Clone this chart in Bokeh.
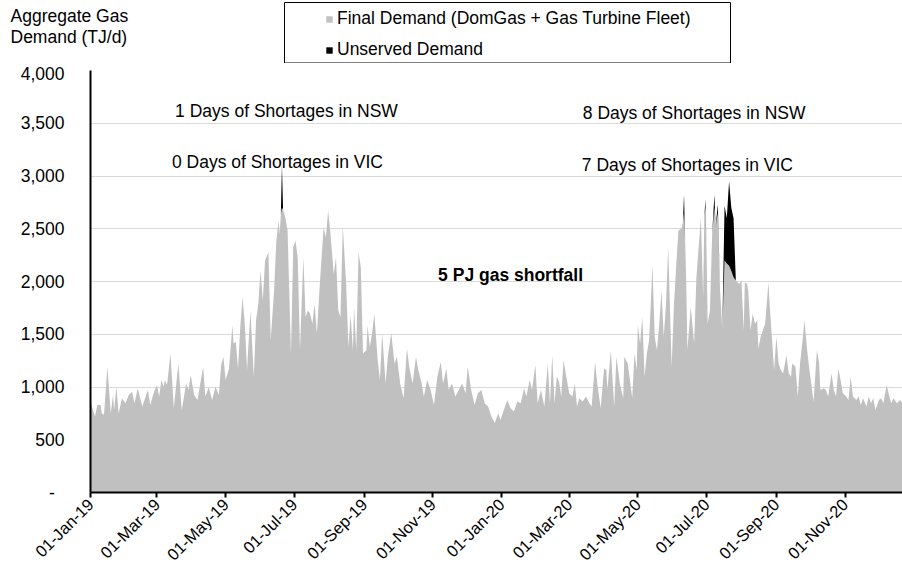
import pandas as pd
from math import pi
from bokeh.plotting import figure
from bokeh.layouts import column
from bokeh.models import (ColumnDataSource, FixedTicker, Legend, LegendItem, Label,
                          DatetimeTickFormatter, NumeralTickFormatter, Range1d)
from bokeh.embed import file_html
from bokeh.resources import INLINE

# ---------------- data ----------------
start_date = "2019-01-01"
# day offsets from 01-Jan-19 and final demand (TJ/d)
day = [0, 4, 6, 9, 10, 12, 15, 18, 20, 21, 23, 25, 28, 31, 34, 37, 39, 42, 46, 49, 51, 53, 56, 59, 61, 63, 65, 66, 68, 71,
       74, 78, 81, 85, 87, 89, 92, 95, 100, 102, 105, 108, 111, 114, 116, 118, 120, 123, 126, 127, 129, 131, 133, 135, 137,
       139, 142, 145, 147, 149, 151, 153, 155, 158, 160, 163, 165, 167, 168, 169, 170, 171, 173, 175, 178, 180, 182, 184,
       186, 189, 191, 193, 195, 197, 199, 201, 204, 207, 209, 211, 213, 216, 218, 220, 222, 224, 227, 229, 231, 233, 234,
       236, 238, 240, 242, 245, 246, 248, 250, 252, 255, 257, 259, 262, 264, 267, 270, 272, 275, 278, 281, 283, 286, 289,
       291, 294, 296, 299, 302, 305, 308, 311, 313, 316, 318, 321, 324, 327, 330, 333, 335, 338, 341, 344, 347, 350, 353,
       356, 359, 362, 364, 367, 370, 373, 376, 379, 382, 385, 387, 390, 392, 395, 397, 400, 403, 406, 408, 410, 412, 414,
       416, 418, 420, 422, 425, 428, 430, 432, 434, 437, 440, 443, 445, 448, 450, 453, 456, 458, 459, 462, 465, 467, 470,
       473, 474, 477, 479, 481, 483, 485, 486, 488, 490, 492, 494, 496, 499, 501, 503, 505, 507, 509, 511, 513, 516, 518,
       520, 522, 524, 525, 526, 527, 528, 529, 530, 533, 536, 538, 540, 542, 544, 545, 546, 547, 548, 550, 552, 554, 555,
       557, 559, 561, 563, 565, 567, 569, 571, 573, 576, 578, 580, 581, 583, 584, 586, 588, 590, 592, 593, 595, 597, 599,
       602, 603, 605, 607, 609, 611, 613, 615, 618, 620, 622, 623, 626, 628, 630, 632, 634, 636, 638, 640, 642, 645, 647,
       648, 651, 653, 655, 658, 660, 662, 664, 666, 668, 671, 673, 675, 677, 680, 682, 684, 686, 689, 691, 693, 695, 697,
       700, 702, 704, 707, 709, 711, 713, 716, 719, 721, 730]
final_demand = [860, 720, 830, 830, 750, 736, 1192, 751, 925, 783, 1003, 751, 893, 846, 925, 956, 846, 987, 814, 909, 972,
                830, 940, 1019, 909, 1066, 1003, 1066, 1019, 1317, 800, 1223, 783, 1035, 972, 1113, 925, 877, 1192, 909,
                997, 877, 1003, 925, 1208, 1286, 1066, 1176, 1585, 1412, 1428, 1176, 1569, 1852, 1600, 1160, 1726, 1098,
                1632, 1789, 2104, 1821, 2199, 2277, 1443, 1915, 2387, 2576, 2450, 2640, 2700, 2680, 2607, 2481, 1318,
                2324, 2387, 2230, 1350, 2230, 1663, 1726, 1695, 1600, 1789, 1506, 2041, 2513, 2418, 2670, 2465, 2072,
                2230, 1726, 1663, 2529, 1978, 1380, 1679, 1349, 1758, 1349, 2277, 2135, 1318, 1349, 1585, 1380, 1506,
                1695, 1255, 1066, 1506, 1035, 1286, 1512, 1223, 1286, 1034, 893, 1365, 1192, 1034, 1286, 1160, 1034, 909,
                1066, 972, 830, 1098, 1239, 1034, 1176, 972, 1034, 909, 972, 1034, 940, 1192, 972, 830, 940, 972, 846, 814,
                720, 657, 751, 688, 783, 877, 799, 767, 862, 846, 987, 909, 1066, 972, 1208, 846, 972, 814, 1223, 846, 1302,
                846, 1097, 1050, 909, 1255, 1129, 940, 909, 1034, 814, 893, 862, 909, 846, 814, 1239, 1034, 799, 1176, 1160,
                972, 1349, 814, 1286, 1034, 893, 1286, 1223, 1066, 893, 1318, 1160, 1585, 1412, 1663, 1097, 1318, 1443,
                2151, 1475, 1349, 1600, 1915, 1475, 1789, 2324, 1192, 1758, 2136, 2481, 2497, 2513, 2560, 2650, 2400, 1978,
                1349, 1758, 1412, 2041, 2324, 2607, 1852, 2600, 2700, 2300, 1600, 1726, 2450, 2700, 2513, 2650, 1915, 1537,
                2200, 2170, 2150, 2100, 2040, 2010, 1977, 2010, 1537, 1994, 1978, 1915, 1537, 1695, 1600, 1632, 1365, 1475,
                1537, 1600, 1994, 1789, 1475, 1160, 1475, 1223, 1160, 1129, 1302, 1129, 1097, 1223, 1192, 909, 1223, 1412,
                1632, 1380, 1192, 1034, 861, 1349, 1223, 972, 987, 972, 909, 1129, 972, 909, 1176, 1066, 940, 909, 877, 1098,
                909, 877, 909, 830, 893, 814, 909, 846, 893, 783, 877, 893, 846, 1019, 925, 846, 893, 846, 877, 846, 870]
# unserved demand (TJ/d) on shortage days
shortage_day = [170, 527, 546, 554, 557, 563, 565, 567, 569, 571]
unserved_tj = [410, 177, 80, 127, 83, 517, 430, 800, 600, 560]

y_ticks = [0, 500, 1000, 1500, 2000, 2500, 3000, 3500, 4000]
x_tick_dates = ["2019-01-01", "2019-03-01", "2019-05-01", "2019-07-01", "2019-09-01", "2019-11-01",
                "2020-01-01", "2020-03-01", "2020-05-01", "2020-07-01", "2020-09-01", "2020-11-01"]

legend_labels = ["Final Demand (DomGas + Gas Turbine Fleet)", "Unserved Demand"]
y_title = ["Aggregate Gas", "Demand (TJ/d)"]

GRAY = "#c0c0c0"
BLACK = "#000000"
FONT = "Liberation Sans"
FS = "17.5px"

# ---------------- build ----------------
t0 = pd.Timestamp(start_date)
dates = [t0 + pd.Timedelta(days=d) for d in day]
short = dict(zip(shortage_day, unserved_tj))
unserved = [short.get(d, 0) for d in day]
total = [a + b for a, b in zip(final_demand, unserved)]

src = ColumnDataSource(dict(date=dates, demand=final_demand, total=total, zero=[0] * len(day)))


def ms(ts):
    return pd.Timestamp(ts).value / 1e6


# ---- header strip: axis title + boxed legend (pixel coordinates) ----
HEAD_H = 63
head = figure(width=902, height=HEAD_H, output_backend="svg", toolbar_location=None,
              x_range=Range1d(0, 902), y_range=Range1d(HEAD_H, 0),
              x_axis_location=None, y_axis_location=None,
              min_border_left=0, min_border_right=0, min_border_top=0, min_border_bottom=0)
head.frame_align = False
head.grid.visible = False
head.outline_line_color = None
head.background_fill_color = "white"

for txt, yy in zip(y_title, [15, 36]):
    head.add_layout(Label(x=10, y=yy, text=txt, text_font=FONT, text_font_size=FS, text_color="black",
                          text_baseline="middle", text_align="left"))

head.quad(left=284, right=730, top=2, bottom=HEAD_H - 0.5, fill_color="white", line_color="black", line_width=1)
# legend key swatches (zero-area patches outside the visible range, only used for the legend keys)
g1 = head.varea(x=[-20, -10], y1=[0, 0], y2=[0, 0], fill_color=GRAY)
g2 = head.varea(x=[-20, -10], y1=[0, 0], y2=[0, 0], fill_color=BLACK)
legend = Legend(items=[LegendItem(label=legend_labels[0], renderers=[g1]),
                       LegendItem(label=legend_labels[1], renderers=[g2])],
                location=(325, HEAD_H - 60), border_line_color=None, background_fill_alpha=0,
                glyph_width=8, glyph_height=8, label_standoff=4, label_height=20, spacing=10,
                padding=0, margin=0, label_text_font=FONT, label_text_font_size=FS, label_text_color="black")
head.add_layout(legend, "center")

# ---- main chart ----
p = figure(width=902, height=573 - HEAD_H, x_axis_type="datetime", output_backend="svg", toolbar_location=None,
           min_border_left=90, min_border_right=0, min_border_top=70 - HEAD_H, min_border_bottom=81)
p.frame_align = False
p.x_range = Range1d(ms(t0), ms(t0 + pd.Timedelta(days=721)))
p.y_range = Range1d(0, 4000)

p.varea(x="date", y1="zero", y2="demand", source=src, fill_color=GRAY)
p.varea(x="date", y1="demand", y2="total", source=src, fill_color=BLACK)

p.outline_line_color = None
p.background_fill_color = "white"
p.xgrid.grid_line_color = None
p.ygrid.grid_line_color = "#d9d9d9"
p.ygrid.grid_line_width = 1

# y axis
p.yaxis.ticker = FixedTicker(ticks=y_ticks)
p.yaxis.formatter = NumeralTickFormatter(format="0,0")
p.yaxis.major_label_overrides = {0: "-\u00a0\u00a0"}
p.yaxis.axis_line_color = "black"
p.yaxis.axis_line_width = 2
p.yaxis.major_tick_line_color = None
p.yaxis.minor_tick_line_color = None
p.yaxis.major_label_text_font = FONT
p.yaxis.major_label_text_font_size = FS
p.yaxis.major_label_text_color = "black"
p.yaxis.major_label_standoff = 20

# x axis
p.xaxis.ticker = FixedTicker(ticks=[ms(d) for d in x_tick_dates])
fmt = "%d-%b-%y"
p.xaxis.formatter = DatetimeTickFormatter(milliseconds=fmt, seconds=fmt, minsec=fmt, minutes=fmt, hourmin=fmt,
                                          hours=fmt, days=fmt, months=fmt, years=fmt)
p.xaxis.major_label_orientation = pi / 4
p.xaxis.axis_line_color = "black"
p.xaxis.axis_line_width = 2
p.xaxis.major_tick_line_color = "black"
p.xaxis.major_tick_line_width = 2
p.xaxis.major_tick_in = 0
p.xaxis.major_tick_out = 5
p.xaxis.minor_tick_line_color = None
p.xaxis.major_label_text_font = FONT
p.xaxis.major_label_text_font_size = "16.5px"
p.xaxis.major_label_text_color = "black"
p.xaxis.major_label_standoff = 4

# annotations
notes = [("1 Days of Shortages in NSW", 174, 3617, "normal"),
         ("0 Days of Shortages in VIC", 166, 3135, "normal"),
         ("8 Days of Shortages in NSW", 536, 3598, "normal"),
         ("7 Days of Shortages in VIC", 530, 3106, "normal"),
         ("5 PJ gas shortfall", 373, 2064, "bold")]
for txt, d, yv, style in notes:
    p.add_layout(Label(x=ms(t0 + pd.Timedelta(days=d)), y=yv, text=txt, text_font=FONT, text_font_size=FS,
                       text_font_style=style, text_color="black", text_align="center", text_baseline="middle"))

layout = column(head, p, spacing=0)
open("out.html", "w").write(file_html(layout, INLINE))
